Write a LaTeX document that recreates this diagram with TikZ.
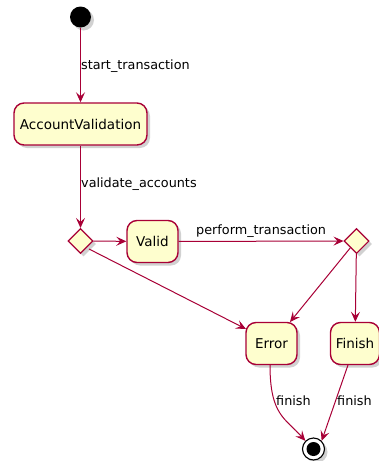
\documentclass[tikz,border=0pt]{standalone}
\usepackage{fontspec}
\setmainfont{DejaVu Sans}
\usetikzlibrary{arrows.meta,shapes.geometric,shadows}
\definecolor{umlred}{HTML}{A80036}
\definecolor{umlfill}{HTML}{FEFECE}
\tikzset{
  shad/.style={drop shadow={shadow xshift=3pt,shadow yshift=-3pt,opacity=0.3,fill=black!60}},
  statebox/.style={draw=umlred,fill=umlfill,line width=1.4pt,rounded corners=10pt,minimum height=42pt,inner xsep=4pt,font=\fontsize{13.5}{16}\selectfont,shad},
  choice/.style={draw=umlred,fill=umlfill,line width=1.1pt,diamond,minimum width=25pt,minimum height=25pt,inner sep=0pt,shad},
  conn/.style={draw=umlred,line width=1pt,-{Stealth[length=10pt,width=9pt,inset=4pt]}},
  lbl/.style={font=\fontsize{12.8}{15}\selectfont,anchor=west,inner sep=0pt}
}
\begin{document}
\begin{tikzpicture}[x=1pt,y=-1pt]
\useasboundingbox (0,0) rectangle (378,461);
\node[circle,fill=black,minimum size=21pt,inner sep=0pt,shad] (start) at (80.5,17) {};
\node[statebox,minimum width=133pt] (av) at (80.5,124) {AccountValidation};
\node[choice] (d1) at (80.5,241) {};
\node[statebox,minimum width=51pt] (valid) at (152.5,241.5) {Valid};
\node[choice] (d2) at (356.5,241) {};
\node[statebox,minimum width=51pt] (err) at (271.5,343.5) {Error};
\node[statebox,minimum width=49pt] (fin) at (355,343.5) {Finish};
\node[circle,draw=black,fill=white,line width=1.1pt,minimum size=22pt,inner sep=0pt,shad] (end) at (313.5,449) {};
\node[circle,fill=black,minimum size=14pt,inner sep=0pt] at (end) {};
\coordinate (d1se) at (89,249);
\coordinate (d2sw) at (351,247);
\coordinate (errtl) at (246,329);
\coordinate (errt) at (290,322);
\draw[conn] (start) -- (av);
\draw[conn] (av) -- (d1);
\draw[conn] (d1) -- (valid);
\draw[conn] (valid) -- (d2);
\draw[conn] (d1se) -- (errtl);
\draw[conn] (d2sw) -- (errt);
\draw[conn] (d2) -- (fin);
\draw[conn] (270,365) .. controls (270,415) and (285,418) .. (end.north west);
\draw[conn] (348,365) -- (end.north east);
\node[lbl] (l1) at (81,66) {start\_transaction};
\node[lbl] (l2) at (81,184) {validate\_accounts};
\node[lbl] (l3) at (196,231) {perform\_transaction};
\node[lbl] (l4) at (276,401) {finish};
\node[lbl] (l5) at (337,401) {finish};
\end{tikzpicture}
\end{document}
